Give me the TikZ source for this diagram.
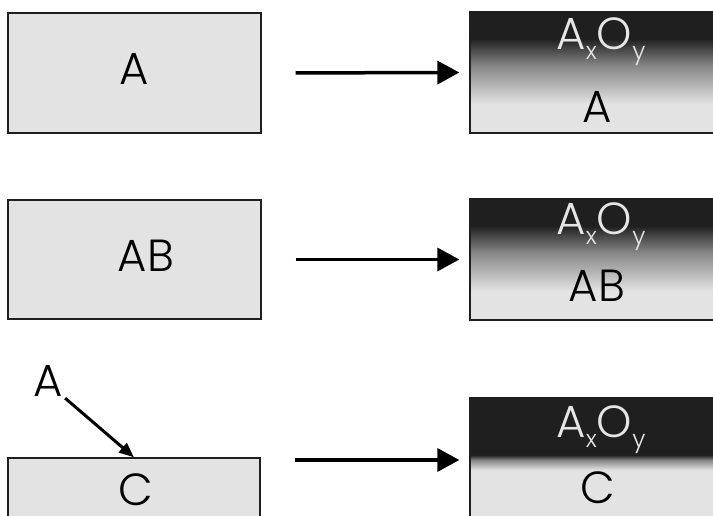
\documentclass[tikz,border=0pt]{standalone}
\usepackage{xcolor}
\usepackage{fontspec}
\setmainfont{Poppins}[UprightFont={* Light}]
\usepackage{tikz}
\usetikzlibrary{arrows.meta}

\definecolor{boxgray}{HTML}{E3E3E3}
\definecolor{oxdark}{HTML}{1F1F1F}
\definecolor{oxmid}{HTML}{858585}
\definecolor{oxtext}{HTML}{E6E6E6}

\pgfdeclareverticalshading{oxthick}{100bp}{color(0bp)=(boxgray); color(37bp)=(boxgray); color(53bp)=(oxmid); color(64bp)=(oxdark); color(100bp)=(oxdark)}
\pgfdeclareverticalshading{oxthin}{100bp}{color(0bp)=(boxgray); color(46bp)=(boxgray); color(50bp)=(oxmid); color(52bp)=(oxdark); color(100bp)=(oxdark)}

\newcommand{\lowidx}[1]{\raisebox{-10pt}{\fontsize{24}{24}\selectfont #1}}

\begin{document}
\begin{tikzpicture}[x=1pt,y=1pt,
  plainbox/.style={draw=oxdark,line width=1.3pt,fill=boxgray,inner sep=0pt},
  oxbox/.style={draw=oxdark,line width=1.3pt,inner sep=0pt},
  txt/.style={inner sep=0pt,anchor=base,font=\fontsize{45}{45}\selectfont},
  bigarrow/.style={line width=3.5pt,-{Triangle[length=22pt,width=23pt]}}]
  \useasboundingbox (0,0) rectangle (713,515);

  % metal before oxidation
  \node[plainbox,minimum width=253pt,minimum height=120pt] (l1) at (134.5,442) {};
  \node[plainbox,minimum width=253pt,minimum height=119pt] (l2) at (134.5,255.5) {};
  \node[plainbox,minimum width=252pt,minimum height=64pt] (l3) at (134,25) {};

  % oxide scale on top
  \node[oxbox,shading=oxthick,minimum width=250pt,minimum height=121pt] (r1) at (595,442.5) {};
  \node[oxbox,shading=oxthick,minimum width=250pt,minimum height=121pt] (r2) at (595,255.5) {};
  \node[oxbox,shading=oxthin,minimum width=250pt,minimum height=124pt] (r3) at (595,55) {};

  \node[txt] (tl1) at (134,430) {A};
  \node[txt] (tl2) at (146,243) {AB};
  \node[txt] (tl3) at (136,10) {C};
  \node[txt] (a3) at (48,119) {A};

  \node[txt,text=oxtext] (ox1) at (601,465) {A\lowidx{x}O\lowidx{y}};
  \node[txt,text=oxtext] (ox2) at (601,280) {A\lowidx{x}O\lowidx{y}};
  \node[txt,text=oxtext] (ox3) at (601,78) {A\lowidx{x}O\lowidx{y}};
  \node[txt] (tr1) at (597,392) {A};
  \node[txt] (tr2) at (597,213) {AB};
  \node[txt] (tr3) at (598,12) {C};

  \draw[bigarrow,shorten <=34pt,shorten >=10pt] (l1.east) -- (r1.west);
  \draw[bigarrow,shorten <=34pt,shorten >=10pt] (l2.east) -- (r2.west);
  \draw[bigarrow,shorten <=34pt,shorten >=10pt] (l3.east |- r3.west) -- (r3.west);
  \draw[line width=3pt,-{Triangle[length=15pt,width=12pt]},shorten <=3pt] (a3.south east) -- (l3.north);
\end{tikzpicture}
\end{document}
